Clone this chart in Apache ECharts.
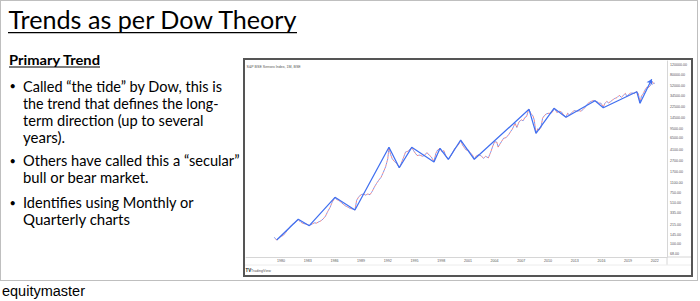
<!DOCTYPE html>
<html>
<head>
<meta charset="utf-8">
<script src="https://cdn.jsdelivr.net/npm/echarts@6/dist/echarts.min.js"></script>
<style>
  html,body{margin:0;padding:0;background:#fff;width:700px;height:301px;overflow:hidden;}
  #slide{position:absolute;left:0;top:0;width:700px;height:301px;}
  #box{position:absolute;left:243px;top:58px;width:450px;height:219px;box-sizing:border-box;border:2px solid #555;background:#fff;}
  #chart{position:absolute;left:0;top:0;width:446px;height:215px;}
</style>
</head>
<body>
<svg id="slide" width="700" height="301" xmlns="http://www.w3.org/2000/svg">
  <rect x="0.5" y="0.5" width="697" height="280" fill="#fff" stroke="#bfbfbf" stroke-width="1"/>
  <text x="8.5" y="29.3" font-family="Lato" font-size="24.5" fill="#000" textLength="288" lengthAdjust="spacingAndGlyphs">Trends as per Dow Theory</text>
  <line x1="8" y1="32.6" x2="297" y2="32.6" stroke="#000" stroke-width="1.3"/>
  <text x="9" y="65" font-family="Lato" font-weight="bold" font-size="14" fill="#000" textLength="91" lengthAdjust="spacingAndGlyphs">Primary Trend</text>
  <line x1="9" y1="67" x2="100" y2="67" stroke="#000" stroke-width="1.1"/>
  <g font-family="Lato" font-size="15" fill="#000">
    <text x="9.5" y="90" font-size="11">•</text>
    <text x="23" y="91.5" textLength="199" lengthAdjust="spacingAndGlyphs">Called “the tide” by Dow, this is</text>
    <text x="23" y="108.5" textLength="195.5" lengthAdjust="spacingAndGlyphs">the trend that defines the long-</text>
    <text x="23" y="125.5" textLength="180.5" lengthAdjust="spacingAndGlyphs">term direction (up to several</text>
    <text x="23" y="142.5">years).</text>
    <text x="9.5" y="164.5" font-size="11">•</text>
    <text x="23" y="166" textLength="216.5" lengthAdjust="spacingAndGlyphs">Others have called this a “secular”</text>
    <text x="23" y="183" textLength="125.5" lengthAdjust="spacingAndGlyphs">bull or bear market.</text>
    <text x="9.5" y="206.8" font-size="11">•</text>
    <text x="23" y="208.3" textLength="170.5" lengthAdjust="spacingAndGlyphs">Identifies using Monthly or</text>
    <text x="23" y="225">Quarterly charts</text>
  </g>
  <text x="2" y="296" font-family="Liberation Sans" font-size="14" fill="#000" textLength="83" lengthAdjust="spacingAndGlyphs">equitymaster</text>
</svg>
<div id="box"><div id="chart"></div></div>
<script>
// ---- data ----
const chartTitle = "S&P BSE Sensex Index, 1M, BSE";
const xTickYears = [1980,1983,1986,1989,1992,1995,1998,2001,2004,2007,2010,2013,2016,2019,2022];
const yTickValues = [120000,80000,52000,34500,22500,14500,9500,6500,4100,2700,1700,1100,750,510,335,215,145,100,68];

const priceYears = [
1979.25,1979.5,1979.75,1980.0,1980.25,1980.5,1980.75,1981.0,1981.25,1981.5,1981.75,1981.94,1982.25,1982.5,1982.75,1983.0,1983.18,1983.5,1983.75,1984.0,
1984.25,1984.5,1984.75,1985.0,1985.25,1985.5,1985.75,1986.07,1986.25,1986.5,1986.75,1987.0,1987.25,1987.5,1987.75,1988.0,1988.31,1988.5,1988.75,1989.0,
1989.25,1989.5,1989.75,1990.0,1990.25,1990.5,1990.75,1991.0,1991.25,1991.5,1991.75,1992.0,1992.13,1992.3,1992.5,1992.75,1993.0,1993.29,1993.5,1993.75,
1994.0,1994.25,1994.5,1994.69,1994.9,1995.1,1995.3,1995.6,1995.9,1996.1,1996.4,1996.7,1996.9,1997.19,1997.4,1997.6,1997.87,1998.1,1998.3,1998.5,
1998.8,1999.0,1999.25,1999.5,1999.75,2000.0,2000.19,2000.4,2000.6,2000.8,2001.05,2001.3,2001.5,2001.72,2001.9,2002.2,2002.5,2002.75,2003.0,2003.3,
2003.6,2003.8,2004.0,2004.25,2004.4,2004.6,2004.8,2005.0,2005.3,2005.6,2005.8,2006.0,2006.3,2006.5,2006.75,2007.0,2007.2,2007.4,2007.6,2007.75,
2007.87,2008.1,2008.3,2008.45,2008.65,2008.85,2009.0,2009.2,2009.4,2009.6,2009.8,2010.0,2010.2,2010.4,2010.6,2010.67,2010.85,2011.0,2011.25,2011.5,
2011.75,2012.02,2012.2,2012.4,2012.6,2012.85,2013.0,2013.25,2013.5,2013.7,2013.97,2014.2,2014.4,2014.6,2014.85,2015.1,2015.28,2015.5,2015.7,2015.95,
2016.21,2016.4,2016.6,2016.8,2017.0,2017.25,2017.5,2017.75,2018.0,2018.25,2018.5,2018.7,2018.85,2019.0,2019.25,2019.5,2019.7,2019.97,2020.15,2020.34,
2020.5,2020.7,2020.9,2021.1,2021.3,2021.5,2021.7,2021.85,2022.0];
const priceValues = [
130,117,125,135,140,155,175,195,215,230,245,262,235,225,220,215,207,220,230,228,
240,250,270,300,360,420,520,630,580,560,520,480,450,430,410,400,385,560,650,700,
720,690,720,700,800,950,1100,1250,1400,1700,2100,2900,4500,3500,2900,2600,2400,2050,2400,3000,
3800,3900,4200,4550,4000,3600,3300,3350,3200,3300,3700,3300,3100,2600,3600,4100,4350,3800,4000,3300,
2850,3100,3600,4300,4700,5200,6000,5000,4500,4100,4100,3600,3400,2850,3200,3400,3250,2950,3200,3000,
3900,4800,5700,5600,4600,5200,5800,6500,6700,7600,8500,9400,11800,10000,12500,13500,13000,14800,15500,18500,
20400,17000,16000,13500,8000,9500,9000,10000,14500,16000,17000,17500,17500,17800,19500,21000,20000,18000,19000,18500,
16500,15000,17500,16500,17500,19000,19500,18900,19400,19000,20500,22400,25000,26600,28000,29000,28500,27800,26200,26100,
22500,26000,28000,26500,27500,29600,31500,32500,35500,33000,36000,38500,34000,36000,38700,39000,38000,41500,38000,26500,
34500,38000,44000,49000,48700,52500,62000,57000,57500];

const trendYears = [1979.52,1981.94,1983.18,1986.07,1988.31,1992.13,1993.29,1994.69,1997.19,1997.87,1998.80,2000.19,2001.72,2007.87,2008.65,2010.67,2012.02,2015.28,2016.21,2019.97,2020.34];
const trendValues = [117,265,206,632,383,4560,2035,4560,2550,4385,2837,6085,2837,20470,7930,21290,14930,28770,21830,41090,25950];
const arrowEndYear = 2021.65;
const arrowEndValue = 67000;

// ---- build ----
const pricePairs = priceYears.map((y, i) => [y, priceValues[i]]);
const trendPairs = trendYears.map((y, i) => [y, trendValues[i]]);
const lastTrend = trendPairs[trendPairs.length - 1];

const FONT = 'Liberation Sans';
const chart = echarts.init(document.getElementById('chart'), null, {renderer: 'svg'});
chart.setOption({
  animation: false,
  grid: {left: 1, right: 24, top: 1, bottom: 18, containLabel: false},
  xAxis: {
    type: 'value', min: 1976.07, max: 2023.37,
    axisLine: {show: true, lineStyle: {color: '#d6d6d6', width: 1}},
    axisTick: {show: false},
    splitLine: {show: false},
    axisLabel: {
      customValues: xTickYears, margin: 2.2, fontSize: 3.6, color: '#555', fontFamily: FONT,
      formatter: v => String(Math.round(v))
    }
  },
  yAxis: {
    type: 'log', logBase: 10, min: 59.7, max: 138300, position: 'right',
    axisLine: {show: true, lineStyle: {color: '#d6d6d6', width: 1}},
    axisTick: {show: false},
    splitLine: {show: false},
    axisLabel: {show: false}
  },
  series: [
    {
      type: 'line', data: pricePairs, showSymbol: false, z: 2, silent: true,
      lineStyle: {color: 'rgba(70,115,240,0.75)', width: 1, type: [2, 2]}
    },
    {
      type: 'line', data: pricePairs, showSymbol: false, z: 2, silent: true,
      lineStyle: {color: 'rgba(240,85,85,0.75)', width: 1, type: [2, 2], dashOffset: 2}
    },
    {
      type: 'line', data: trendPairs, showSymbol: false, z: 3, silent: true,
      lineStyle: {color: '#4170f0', width: 1.25},
      markLine: {
        silent: true, symbol: ['none', 'arrow'], symbolSize: 5,
        label: {show: false},
        lineStyle: {color: '#4170f0', width: 1.25, type: 'solid'},
        data: [[{coord: lastTrend}, {coord: [arrowEndYear, arrowEndValue]}]]
      }
    }
  ]
});

const g = [];
yTickValues.forEach((v, i) => {
  const py = chart.convertToPixel({yAxisIndex: 0}, v);
  g.push({type: 'text', id: 'yl' + i, x: 425, y: py, silent: true,
    style: {text: v.toFixed(2), fontSize: 3.6, fill: '#555', fontFamily: FONT, align: 'left', verticalAlign: 'middle'}});
});
g.push({type: 'text', id: 'title', x: 1.5, y: 6.7, silent: true,
  style: {text: chartTitle, fontSize: 3.6, fill: '#555', fontFamily: FONT, align: 'left', verticalAlign: 'middle'}});
g.push({type: 'line', id: 'sep1', silent: true, shape: {x1: 422, y1: 197, x2: 446, y2: 197}, style: {stroke: '#d6d6d6', lineWidth: 1}});
g.push({type: 'line', id: 'sep2', silent: true, shape: {x1: 422, y1: 197, x2: 422, y2: 205}, style: {stroke: '#d6d6d6', lineWidth: 1}});
g.push({type: 'line', id: 'sep3', silent: true, shape: {x1: 0, y1: 205, x2: 446, y2: 205}, style: {stroke: '#ececec', lineWidth: 1}});
g.push({type: 'text', id: 'tvlogo', x: 0.5, y: 210.7, silent: true,
  style: {text: 'TV', fontSize: 4.5, fontWeight: 'bold', fill: '#131722', fontFamily: FONT, align: 'left', verticalAlign: 'middle'}});
g.push({type: 'text', id: 'tvtext', x: 6, y: 210.7, silent: true,
  style: {text: 'TradingView', fontSize: 3.6, fill: '#555', fontFamily: FONT, align: 'left', verticalAlign: 'middle'}});
chart.setOption({graphic: g});
</script>
</body>
</html>
